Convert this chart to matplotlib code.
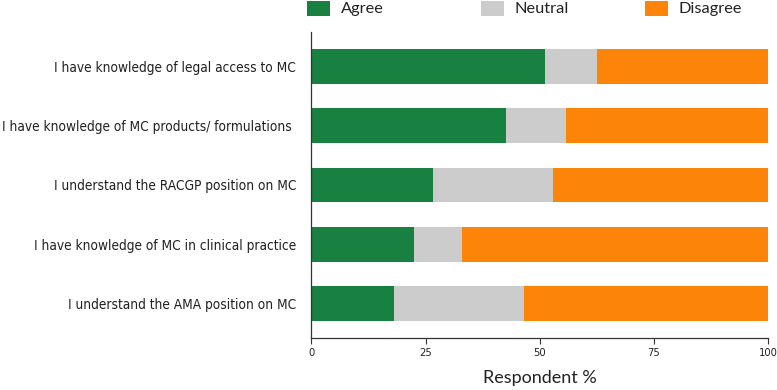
import numpy as np
import matplotlib.pyplot as plt
from matplotlib.patches import Rectangle

statements = [
    "I have knowledge of legal access to MC",
    "I have knowledge of MC products/ formulations ",
    "I understand the RACGP position on MC",
    "I have knowledge of MC in clinical practice",
    "I understand the AMA position on MC",
]
agree = [51.1, 42.6, 26.7, 22.5, 18.0]
neutral = [11.4, 13.1, 26.1, 10.5, 28.5]
disagree = [37.5, 44.3, 47.2, 67.0, 53.5]
xticks = [0, 25, 50, 75, 100]

GREEN = "#188142"
GREY = "#cccccc"
ORANGE = "#fc8408"

plain = ["Lato", "DejaVu Sans"]

fig = plt.figure(figsize=(7.77, 3.9), dpi=100)
ax = fig.add_axes([0.4007, 0.1333, 0.5881, 0.7847])

y = np.arange(len(statements))[::-1]
a = np.array(agree)
n = np.array(neutral)
d = np.array(disagree)
ax.barh(y, a, height=0.59, color=GREEN)
ax.barh(y, n, left=a, height=0.59, color=GREY)
ax.barh(y, d, left=a + n, height=0.59, color=ORANGE)

ax.set_xlim(0, 100)
ax.set_ylim(-0.58, 4.58)
ax.set_yticks(y)
ax.set_yticklabels(statements, family="DejaVu Sans", stretch="condensed", fontsize=9.8, color="#222222")
ax.tick_params(axis="y", length=0, pad=11)
ax.set_xticks(xticks)
ax.set_xticklabels([str(t) for t in xticks], family="DejaVu Sans", stretch="condensed", fontsize=8, color="#222222")
ax.tick_params(axis="x", length=4, width=0.8, color="#333333")
ax.set_xlabel("Respondent %", family=plain, fontsize=13, color="#222222", labelpad=8)
for s in ["top", "right"]:
    ax.spines[s].set_visible(False)
for s in ["left", "bottom"]:
    ax.spines[s].set_linewidth(0.9)
    ax.spines[s].set_color("#333333")

# legend drawn along the top
leg_items = [("Agree", GREEN, 306.7), ("Neutral", GREY, 481), ("Disagree", ORANGE, 645)]
W, H = 777.0, 390.0
for name, col, x0 in leg_items:
    fig.add_artist(Rectangle((x0 / W, 1 - 16 / H), 23 / W, 15 / H,
                             transform=fig.transFigure, color=col, lw=0))
    fig.text((x0 + 34) / W, 1 - 9 / H, name, family=plain, fontsize=11.8,
             color="#222222", va="center", ha="left")

fig.savefig("out.png", dpi=100)
